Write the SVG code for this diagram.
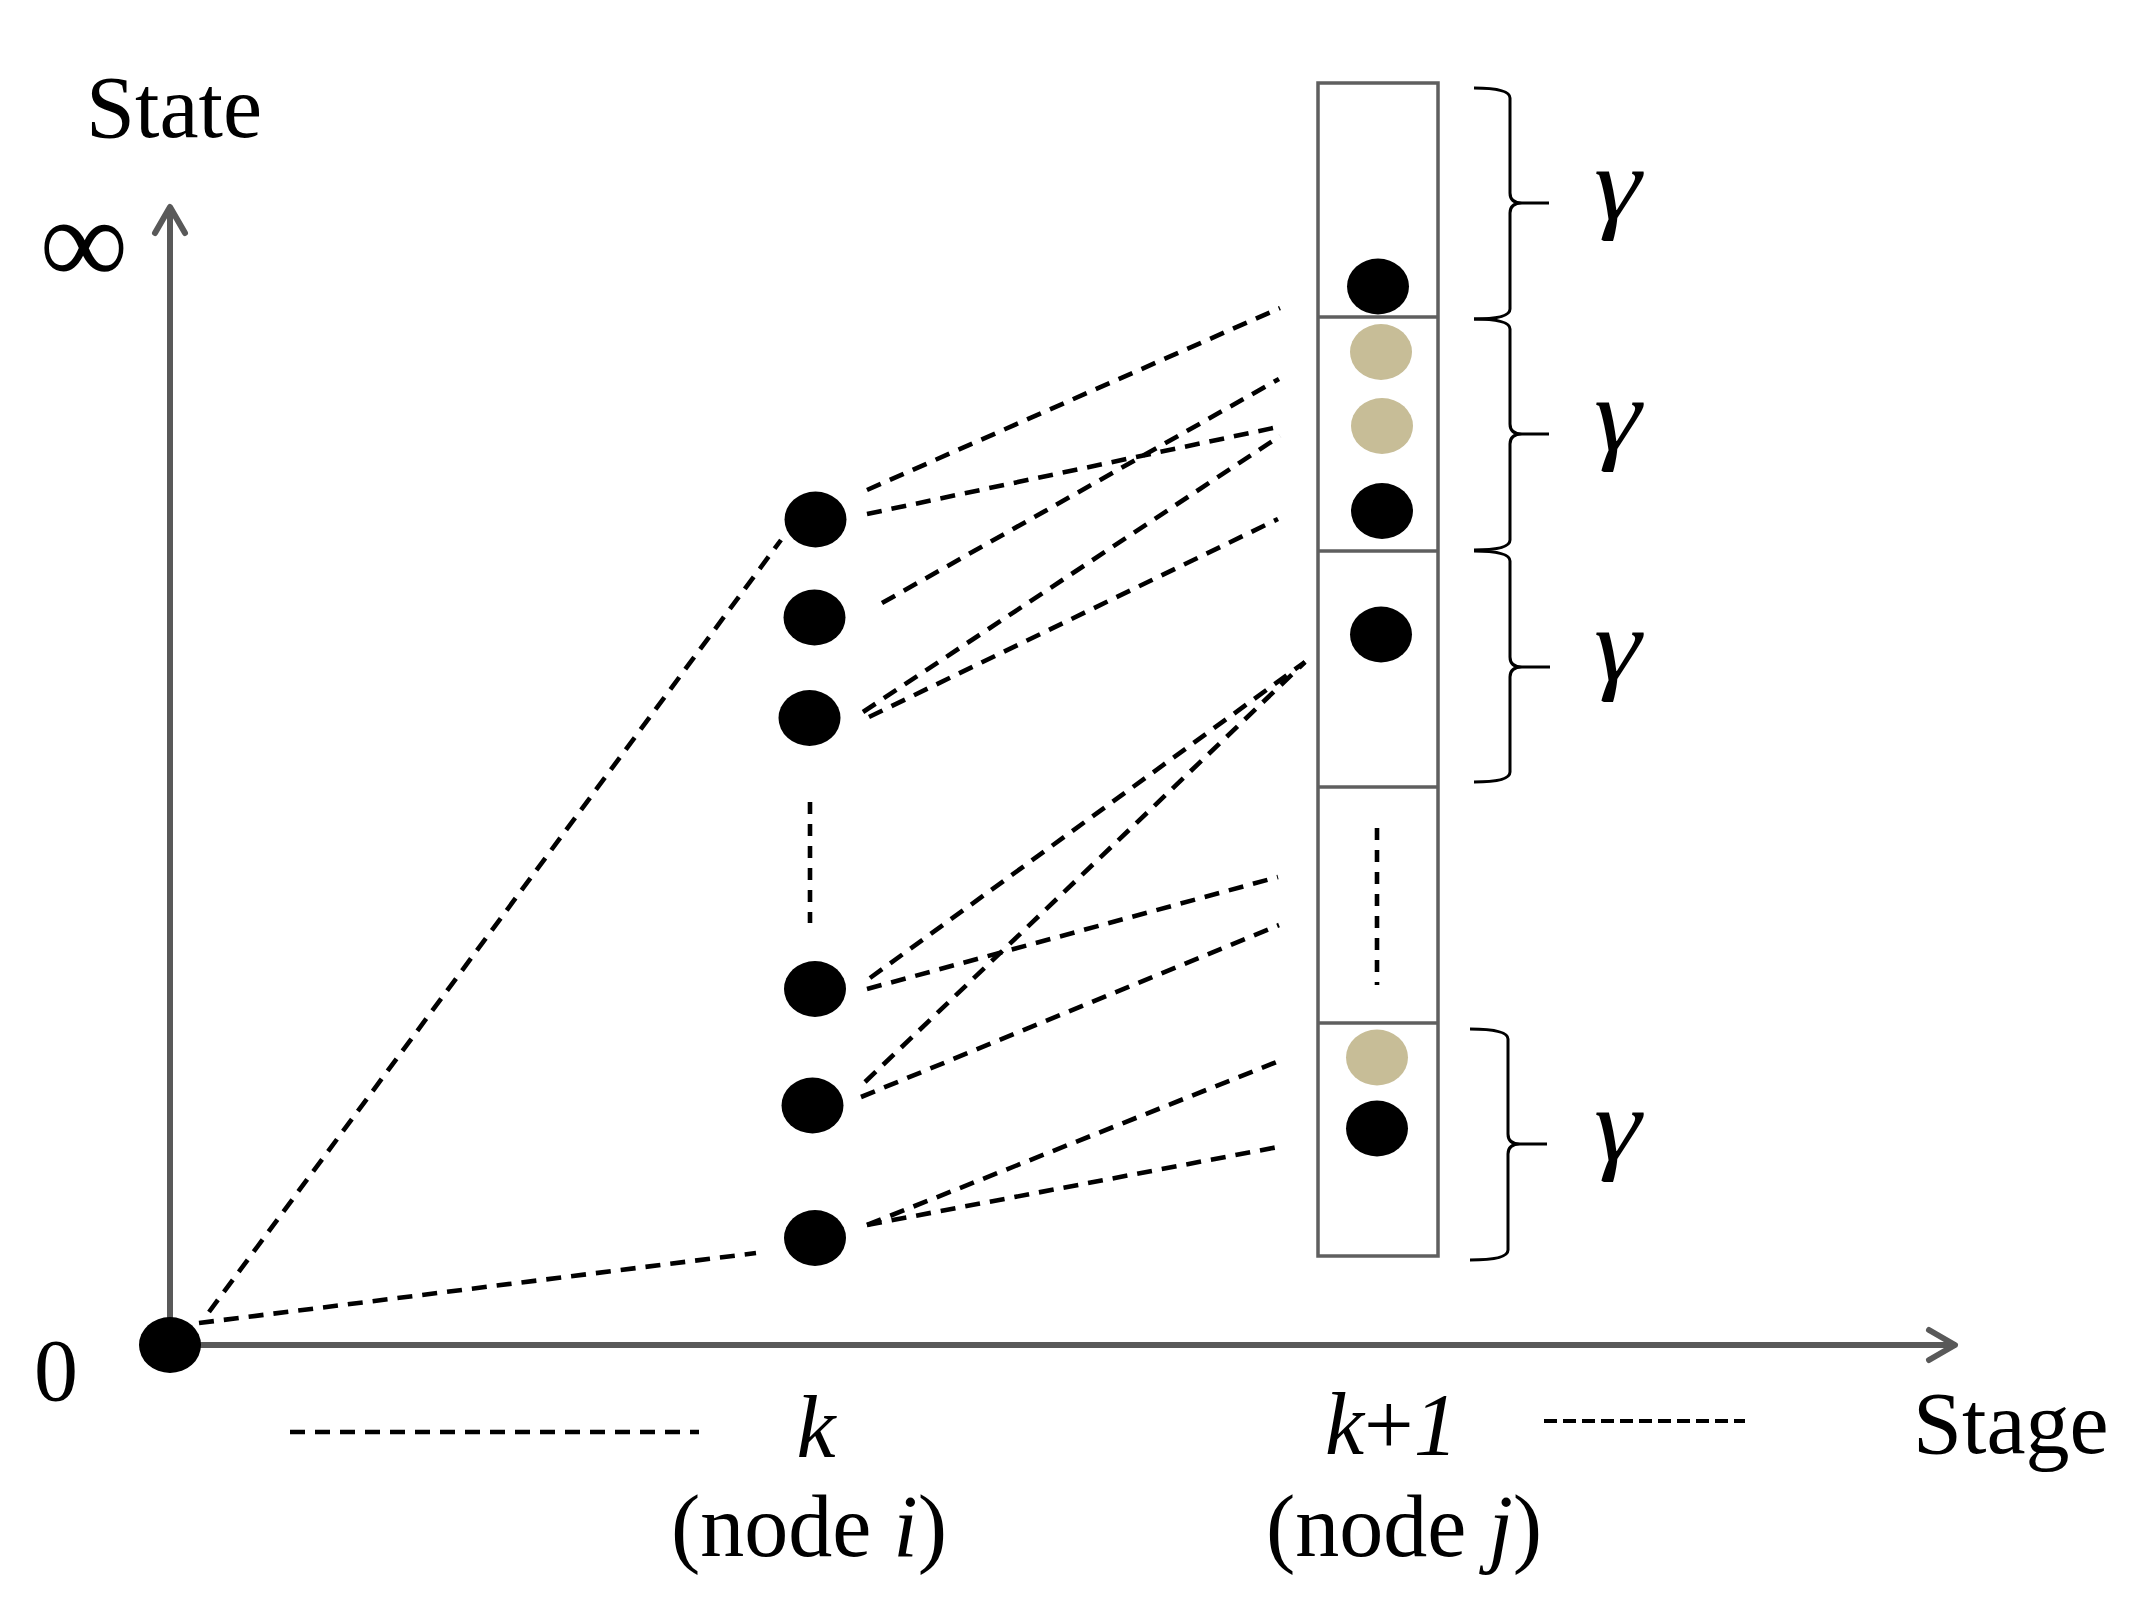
<svg xmlns="http://www.w3.org/2000/svg" width="2155" height="1621" viewBox="0 0 2155 1621">
<style>
  .txt { font-family: "Liberation Serif", "Times New Roman", serif; font-size: 88px; fill: #000; }
  .it { font-style: italic; }
  .inf { font-size: 124px; }
  .axis { stroke: #595959; stroke-width: 6; fill: none; stroke-linecap: round; stroke-linejoin: round; }
  .box { stroke: #5f5f5f; stroke-width: 3.5; fill: none; }
  .dash { stroke: #000; stroke-width: 4.6; stroke-dasharray: 15 10; fill: none; }
  .dots { stroke: #000; stroke-width: 4.6; stroke-dasharray: 12 10; fill: none; }
  .fine { stroke-width: 4; stroke-dasharray: 13 6; }
  .brace { stroke: #000; stroke-width: 3; fill: none; }
  .blk { fill: #000; }
  .tan { fill: #C7BD97; }
  .gam { font-family: "Liberation Serif", "Times New Roman", serif; font-style: italic; font-size: 104px; fill: #000; }
</style>
<rect width="2155" height="1621" fill="#fff"/>

<g id="axes">
  <line class="axis" x1="170" y1="1345" x2="170" y2="210"/>
  <polyline class="axis" points="155,233 170,207 185,233"/>
  <line class="axis" x1="170" y1="1345" x2="1952" y2="1345"/>
  <polyline class="axis" points="1929,1330 1955,1345 1929,1360"/>
</g>

<g id="labels">
  <text class="txt" x="86" y="137">State</text>
  <text class="txt inf" x="84" y="284" text-anchor="middle">∞</text>
  <text class="txt" x="56" y="1400" text-anchor="middle">0</text>
  <text class="txt it" x="816" y="1457" text-anchor="middle">k</text>
  <text class="txt" x="809" y="1556" text-anchor="middle">(node <tspan class="it">i</tspan>)</text>
  <text class="txt" x="1325" y="1454"><tspan class="it">k</tspan>+<tspan class="it">1</tspan></text>
  <text class="txt" x="1266" y="1556">(node <tspan class="it">j</tspan>)</text>
  <text class="txt" x="1913" y="1453">Stage</text>
</g>

<g id="connectors">
  <line class="dash" x1="209" y1="1312" x2="781" y2="540"/>
  <line class="dash" x1="199" y1="1323" x2="756" y2="1253"/>
  <line class="dash" x1="867" y1="490" x2="1280" y2="308"/>
  <line class="dash" x1="867" y1="514" x2="1278" y2="427"/>
  <line class="dash" x1="882" y1="603" x2="1279" y2="379"/>
  <line class="dash" x1="863" y1="712" x2="1280" y2="436"/>
  <line class="dash" x1="869" y1="717" x2="1278" y2="519"/>
  <line class="dash" x1="870" y1="978" x2="1305" y2="662"/>
  <line class="dash" x1="867" y1="989" x2="1278" y2="877"/>
  <line class="dash" x1="865" y1="1082" x2="1305" y2="662"/>
  <line class="dash" x1="861" y1="1097" x2="1279" y2="925"/>
  <line class="dash" x1="867" y1="1225" x2="1279" y2="1061"/>
  <line class="dash" x1="867" y1="1225" x2="1278" y2="1147"/>
  <line class="dots" x1="810" y1="802" x2="810" y2="923"/>
  <line class="dots" x1="1377" y1="828" x2="1377" y2="985"/>
  <line class="dash" x1="290" y1="1432" x2="699" y2="1432"/>
  <line class="dots fine" x1="1544" y1="1421" x2="1745" y2="1421"/>
</g>

<g id="node-origin"><ellipse class="blk" cx="170" cy="1345" rx="31" ry="28"/></g>
<g id="node-k1"><ellipse class="blk" cx="815.5" cy="519.5" rx="31" ry="28"/></g>
<g id="node-k2"><ellipse class="blk" cx="814.5" cy="617.5" rx="31" ry="28"/></g>
<g id="node-k3"><ellipse class="blk" cx="809.5" cy="718" rx="31" ry="28"/></g>
<g id="node-k4"><ellipse class="blk" cx="815" cy="989" rx="31" ry="28"/></g>
<g id="node-k5"><ellipse class="blk" cx="812.5" cy="1105.5" rx="31" ry="28"/></g>
<g id="node-k6"><ellipse class="blk" cx="815" cy="1238" rx="31" ry="28"/></g>

<g id="stage-box">
  <rect class="box" x="1318" y="83" width="120" height="1173"/>
  <line class="box" x1="1318" y1="317" x2="1438" y2="317"/>
  <line class="box" x1="1318" y1="551" x2="1438" y2="551"/>
  <line class="box" x1="1318" y1="787" x2="1438" y2="787"/>
  <line class="box" x1="1318" y1="1023" x2="1438" y2="1023"/>
</g>

<g id="node-j1"><ellipse class="blk" cx="1378" cy="286.5" rx="31" ry="28"/></g>
<g id="node-j2"><ellipse class="tan" cx="1381" cy="352" rx="31" ry="28"/></g>
<g id="node-j3"><ellipse class="tan" cx="1382" cy="426" rx="31" ry="28"/></g>
<g id="node-j4"><ellipse class="blk" cx="1382" cy="511" rx="31" ry="28"/></g>
<g id="node-j5"><ellipse class="blk" cx="1381" cy="634.5" rx="31" ry="28"/></g>
<g id="node-j6"><ellipse class="tan" cx="1377" cy="1057.5" rx="31" ry="28"/></g>
<g id="node-j7"><ellipse class="blk" cx="1377" cy="1128.5" rx="31" ry="28"/></g>

<g id="braces">
  <path class="brace" d="M1474,88 Q1510,88 1510,98 V193 Q1510,203 1522,203 H1549 M1522,203 Q1510,203 1510,213 V309 Q1510,319 1474,319"/>
  <path class="brace" d="M1474,319 Q1510,319 1510,329 V424 Q1510,434 1522,434 H1549 M1522,434 Q1510,434 1510,444 V540 Q1510,550 1474,550"/>
  <path class="brace" d="M1474,551 Q1510,551 1510,561 V657 Q1510,667 1522,667 H1550 M1522,667 Q1510,667 1510,677 V772 Q1510,782 1474,782"/>
  <path class="brace" d="M1470,1029 Q1508,1029 1508,1039 V1134 Q1508,1144 1520,1144 H1547 M1520,1144 Q1508,1144 1508,1154 V1250 Q1508,1260 1470,1260"/>
</g>

<g id="gammas">
  <text class="gam" x="1594" y="219" transform="translate(1594 0) scale(1.15 1) translate(-1594 0)">γ</text>
  <text class="gam" x="1594" y="450" transform="translate(1594 0) scale(1.15 1) translate(-1594 0)">γ</text>
  <text class="gam" x="1594" y="680" transform="translate(1594 0) scale(1.15 1) translate(-1594 0)">γ</text>
  <text class="gam" x="1594" y="1160" transform="translate(1594 0) scale(1.15 1) translate(-1594 0)">γ</text>
</g>
</svg>
